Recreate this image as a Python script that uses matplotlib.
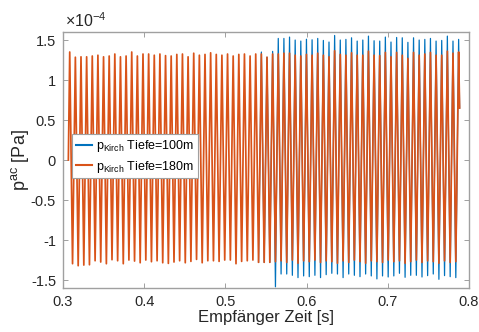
import numpy as np
import matplotlib
matplotlib.use("Agg")
import matplotlib.pyplot as plt
from matplotlib.ticker import FuncFormatter

plt.rcParams['font.family'] = ['Liberation Sans', 'DejaVu Sans']
plt.rcParams['mathtext.fontset'] = 'custom'
plt.rcParams['mathtext.rm'] = 'Liberation Sans'

# ── Daten (Werte in 1e-4 Pa) ────────────────────────────────────────────────
SCALE = 1e-4
t_first_peak = 0.3083      # Zeit des ersten Maximums [s]
period = 0.006942          # Periodendauer [s]
t_start, p_start = 0.3066, 0.0
t_end, p_end = 0.7885, 0.65

peaks_180 = [
    1.35, 1.285, 1.29, 1.29, 1.30, 1.31, 1.29, 1.30, 1.325, 1.29, 1.30, 1.35,
    1.30, 1.325, 1.325, 1.31, 1.325, 1.305, 1.30, 1.32, 1.325, 1.29, 1.335, 1.31,
    1.32, 1.34, 1.32, 1.31, 1.325, 1.30, 1.32, 1.325, 1.30, 1.325, 1.325, 1.285,
    1.325, 1.325, 1.335, 1.335, 1.31, 1.30, 1.32, 1.31, 1.335, 1.31, 1.29, 1.365,
    1.32, 1.31, 1.34, 1.31, 1.31, 1.36, 1.31, 1.305, 1.345, 1.29, 1.345, 1.31,
    1.27, 1.345, 1.31, 1.325, 1.345, 1.31, 1.31, 1.36, 1.335, 1.35,
]
troughs_180 = [
    -1.296, -1.321, -1.313, -1.309, -1.259, -1.275, -1.296, -1.246, -1.259, -1.296,
    -1.25, -1.263, -1.284, -1.25, -1.271, -1.259, -1.284, -1.292, -1.275, -1.259,
    -1.284, -1.267, -1.242, -1.284, -1.259, -1.259, -1.267, -1.25, -1.25, -1.296,
    -1.267, -1.259, -1.25, -1.279, -1.279, -1.279, -1.27, -1.26, -1.28, -1.25,
    -1.29, -1.26, -1.27, -1.25, -1.28, -1.26, -1.27, -1.29, -1.26, -1.28,
    -1.25, -1.27, -1.29, -1.26, -1.27, -1.28, -1.25, -1.27, -1.26, -1.29,
    -1.27, -1.25, -1.28, -1.26, -1.27, -1.29, -1.26, -1.28, -1.27,
]
peaks_100 = peaks_180[:34] + [
    1.35, 1.285, 1.358, 1.52, 1.52, 1.537, 1.50, 1.487, 1.51, 1.503, 1.52, 1.495,
    1.475, 1.557, 1.50, 1.508, 1.528, 1.487, 1.50, 1.549, 1.491, 1.487, 1.537, 1.475,
    1.532, 1.528, 1.471, 1.528, 1.50, 1.508, 1.52, 1.487, 1.495, 1.549, 1.487, 1.508,
]
troughs_100 = troughs_180[:36] + [
    -1.585, -1.425, -1.425, -1.441, -1.470, -1.449, -1.458, -1.441, -1.470, -1.433,
    -1.416, -1.425, -1.470, -1.425, -1.441, -1.458, -1.425, -1.449, -1.486, -1.449,
    -1.462, -1.449, -1.416, -1.466, -1.441, -1.441, -1.462, -1.445, -1.425, -1.491,
    -1.445, -1.458, -1.470,
]
labels = [r'$\mathregular{p_{Kirch}}$ Tiefe=100m',
          r'$\mathregular{p_{Kirch}}$ Tiefe=180m']
colors = ['#0072BD', '#D95319']


def build_trace(peaks, troughs):
    t_peak = t_first_peak + period * np.arange(len(peaks))
    t, p = [t_start], [p_start]
    for k in range(len(peaks)):
        t.append(t_peak[k]); p.append(peaks[k])
        if k < len(troughs):
            t.append(t_peak[k] + period / 2); p.append(troughs[k])
    t.append(t_end); p.append(p_end)
    return np.array(t), np.array(p) * SCALE


fig = plt.figure(figsize=(4.79, 3.32), dpi=100)
ax = fig.add_axes([0.1315, 0.1325, 0.8475, 0.771])

t100, p100 = build_trace(peaks_100, troughs_100)
t180, p180 = build_trace(peaks_180, troughs_180)
# the 100m trace lies exactly under the 180m one until they split;
# only draw the part that shows, so antialiased edges don't mix colours
i0 = max(np.argmax(p100 != p180) - 1, 0)
ax.plot(t100[i0:], p100[i0:], color=colors[0], lw=0.9, label=labels[0])
ax.plot(t180, p180, color=colors[1], lw=1.25, label=labels[1])

ax.set_xlim(0.3, 0.8)
ax.set_ylim(-1.6e-4, 1.6e-4)
ax.set_xticks(np.arange(0.3, 0.81, 0.1))
ax.set_yticks(np.arange(-1.5, 1.51, 0.5) * SCALE)
ax.xaxis.set_major_formatter(FuncFormatter(lambda v, _: f"{v:g}"))
ax.yaxis.set_major_formatter(FuncFormatter(lambda v, _: f"{round(v / SCALE, 2):g}"))
ax.tick_params(direction='in', length=3.5, width=0.7, color='#a0a0a0',
               labelsize=10.5, labelcolor='#262626', top=True, right=True, pad=5)
for s in ax.spines.values():
    s.set_color('#a0a0a0')
    s.set_linewidth(1.0)

ax.set_xlabel('Empfänger Zeit [s]', fontsize=12, color='#262626', labelpad=1)
ax.set_ylabel(r'$\mathregular{p^{ac}}$ [Pa]', fontsize=13, color='#262626', labelpad=0)
fig.text(65 / 479, 1 - 27 / 332, r'$\mathregular{\times10^{-4}}$',
         fontsize=11.5, color='#262626', va='baseline', ha='left')

leg = ax.legend(loc='upper left', bbox_to_anchor=(0.022, 0.60), borderaxespad=0,
                fontsize=9, handlelength=1.3, handletextpad=0.3, borderpad=0.3,
                labelspacing=0.35, fancybox=False, framealpha=1)
leg.get_frame().set_edgecolor('#a0a0a0')
leg.get_frame().set_linewidth(0.8)
for h in leg.get_lines():
    h.set_linewidth(1.5)

fig.savefig('out.png', dpi=100)
